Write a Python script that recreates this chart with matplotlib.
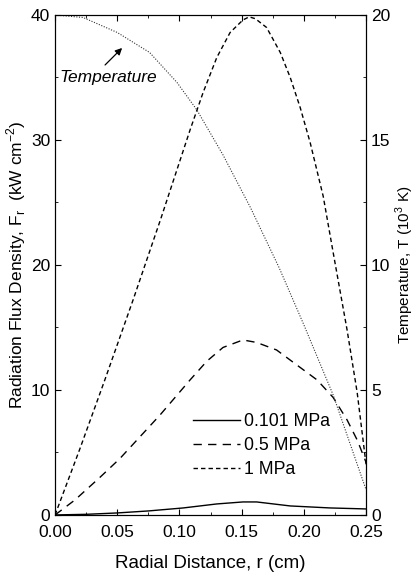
import numpy as np
import matplotlib
matplotlib.use("Agg")
import matplotlib.pyplot as plt
from matplotlib.ticker import MultipleLocator

plt.rcParams['font.family'] = ['Liberation Sans', 'DejaVu Sans']

# radiation flux density (kW cm^-2)
r_0101 = [0, 0.025, 0.05, 0.075, 0.103, 0.13, 0.151, 0.162, 0.189, 0.221, 0.25]
flux_0101 = [0, 0.05, 0.16, 0.32, 0.56, 0.88, 1.04, 1.04, 0.72, 0.56, 0.48]

r_05 = [0, 0.016, 0.036, 0.052, 0.0844, 0.1085, 0.122, 0.135, 0.151, 0.162,
        0.178, 0.197, 0.2106, 0.2235, 0.2347, 0.2428, 0.25]
flux_05 = [0, 1.2, 3.0, 4.5, 8.0, 10.8, 12.3, 13.4, 14.0, 13.8,
           13.2, 11.8, 10.8, 9.4, 7.6, 6.0, 4.2]

r_1 = [0, 0.02, 0.04, 0.0627, 0.085, 0.1085, 0.119, 0.130, 0.1407, 0.151, 0.156, 0.161,
       0.170, 0.181, 0.189, 0.197, 0.205, 0.2155, 0.2235, 0.2347, 0.2428, 0.25]
flux_1 = [0, 5.3, 10.8, 17.2, 23.7, 30.8, 33.8, 36.6, 38.6, 39.6, 39.85, 39.7,
          39.0, 37.0, 35.0, 32.6, 29.8, 25.5, 21.0, 14.8, 9.8, 4.0]

# temperature (10^3 K)
r_temp = [0, 0.0225, 0.05, 0.076, 0.098, 0.114, 0.135, 0.157, 0.18, 0.2, 0.2235, 0.25]
temp = [20.0, 19.9, 19.3, 18.5, 17.3, 16.2, 14.4, 12.3, 9.9, 7.6, 4.8, 1.0]

labels = ['0.101 MPa', '0.5 MPa', '1 MPa']

fig = plt.figure(figsize=(4.17, 5.76), dpi=100)
ax = fig.add_axes([0.132, 0.106, 0.746, 0.868])

ax.plot(r_0101, flux_0101, color='black', lw=1.0, ls='-', label=labels[0])
ax.plot(r_05, flux_05, color='black', lw=1.0, ls=(0, (6, 4.5)), label=labels[1])
ax.plot(r_1, flux_1, color='black', lw=1.0, ls=(0, (3.2, 2.2)), label=labels[2])

ax.set_xlim(0, 0.25)
ax.set_ylim(0, 40)
ax.xaxis.set_minor_locator(MultipleLocator(0.025))
ax.yaxis.set_major_locator(MultipleLocator(10))
ax.yaxis.set_minor_locator(MultipleLocator(5))
ax.set_xticks([0, 0.05, 0.1, 0.15, 0.2, 0.25])
ax.set_xticklabels(['0.00', '0.05', '0.10', '0.15', '0.20', '0.25'])
ax.tick_params(which='both', direction='in', top=True, labelsize=12.5)
ax.tick_params(axis='x', pad=7)
ax.tick_params(which='major', length=4)
ax.tick_params(which='minor', length=2.5)
ax.set_xlabel('Radial Distance, r (cm)', fontsize=13.5, labelpad=11)
ax.set_ylabel(r'Radiation Flux Density, F$_\mathregular{r}$  (kW cm$^\mathregular{-2}$)',
              fontsize=12.5, labelpad=2)

ax2 = ax.twinx()
ax2.plot(r_temp, temp, color='#333333', lw=0.8, ls=(0, (1, 1.4)))
ax2.set_ylim(0, 20)
ax2.yaxis.set_major_locator(MultipleLocator(5))
ax2.yaxis.set_minor_locator(MultipleLocator(2.5))
ax2.tick_params(which='both', direction='in', labelsize=12.5)
ax2.tick_params(which='major', length=4)
ax2.tick_params(which='minor', length=2.5)
ax2.set_ylabel(r'Temperature, T (10$^\mathregular{3}$ K)', fontsize=11, labelpad=2)

ax2.text(0.0426, 17.48, 'Temperature', fontsize=12.5, style='italic',
         ha='center', va='center')
ax2.annotate('', xy=(0.0539, 18.68), xytext=(0.0402, 18.0),
             arrowprops=dict(arrowstyle='-|>', color='black', lw=0.9,
                             mutation_scale=10, shrinkA=0, shrinkB=0))

leg = ax.legend(loc='upper left', bbox_to_anchor=(0.444, 0.204), frameon=False,
                fontsize=12.7, handlelength=2.67, handletextpad=0.2,
                labelspacing=0.4, borderpad=0, borderaxespad=0)

fig.savefig('out.png', dpi=100)
